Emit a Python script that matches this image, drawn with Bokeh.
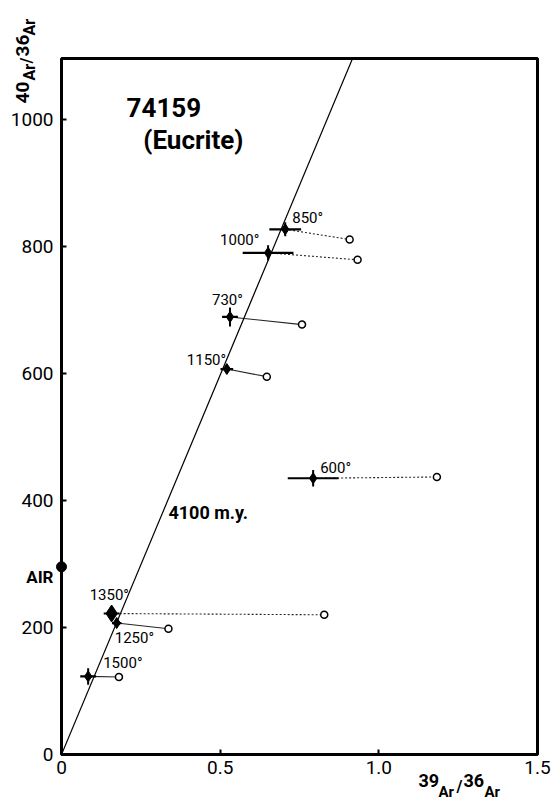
import numpy as np
from bokeh.plotting import figure
from bokeh.models import FixedTicker, ColumnDataSource, Range1d
from bokeh.core.properties import value
from bokeh.embed import file_html
from bokeh.resources import INLINE

# ---- data ----
temps = ["850°", "1000°", "730°", "1150°", "600°", "1350°", "1250°", "1500°"]
x_corr = [0.705, 0.651, 0.531, 0.521, 0.793, 0.158, 0.174, 0.084]   # 39Ar/36Ar corrected
y_corr = [827, 790, 689, 607, 435, 222, 207, 123]                    # 40Ar/36Ar corrected
x_unc = [0.908, 0.933, 0.758, 0.647, 1.183, 0.828, 0.337, 0.181]    # uncorrected
y_unc = [811, 779, 677, 595, 437, 220, 198, 122]
x_err = [0.05, 0.08, 0.025, 0.02, 0.08, 0.025, 0.015, 0.025]
y_err = [11, 12, 15, 6, 13, 8, 6, 13]
air_ratio = 295.5
isochron_slope = 1195.0      # 4100 m.y. reference isochron through origin
isochron_label = "4100 m.y."
x_ticks = [0, 0.5, 1.0, 1.5]
x_tick_labels = ["0", "0.5", "1.0", "1.5"]
y_ticks = [0, 200, 400, 600, 800, 1000]

# ---- styles ----
FONT = "Roboto"
link_dash = ["2 2", "2 2", "solid", "solid", "2 2", "2 2", "solid", "solid"]
label_dx = [7, -48, -18, -40, 7, -22, -2, 15]        # px from corrected point
label_dy = [11, 12.5, 17, 9, 10, 19, -15, 13.5]      # px up
marker_size = [11, 11, 11, 11, 11, 17, 11, 11]

W, H = 552, 801
BL, BR, BT, BB = 61, 15, 58, 47
X0, X1, Y0, Y1 = 0, 1.5, 0, 1096
p = figure(width=W, height=H, output_backend="svg", toolbar_location=None,
           x_range=Range1d(X0, X1), y_range=Range1d(Y0, Y1),
           min_border_left=BL, min_border_right=BR, min_border_top=BT, min_border_bottom=BB)
p.grid.visible = False
p.background_fill_color = "white"
p.border_fill_color = "white"
p.outline_line_color = "black"
p.outline_line_width = 3

for ax in (p.xaxis[0], p.yaxis[0]):
    ax.axis_line_color = None
    ax.major_tick_in = 5
    ax.major_tick_out = 0
    ax.major_tick_line_width = 2
    ax.minor_tick_line_color = None
    ax.major_label_text_font = FONT
    ax.major_label_text_font_size = "19px"
    ax.major_label_text_color = "black"
p.xaxis.ticker = FixedTicker(ticks=x_ticks)
p.xaxis.major_label_overrides = {t: l for t, l in zip(x_ticks, x_tick_labels)}
p.xaxis.major_label_standoff = 6
p.yaxis.ticker = FixedTicker(ticks=y_ticks)
p.yaxis.major_label_standoff = 8

# isochron
xi_end = Y1 / isochron_slope
p.line([0, xi_end], [0, isochron_slope * xi_end], line_color="black", line_width=1.2)

# links corrected -> uncorrected
for i in range(len(temps)):
    p.line([x_corr[i], x_unc[i]], [y_corr[i], y_unc[i]], line_color="black",
           line_width=1.1, line_dash=link_dash[i], line_alpha=0.85)

src = ColumnDataSource(dict(x=x_corr, y=y_corr, xu=x_unc, yu=y_unc,
                            x0=[a - b for a, b in zip(x_corr, x_err)],
                            x1=[a + b for a, b in zip(x_corr, x_err)],
                            y0=[a - b for a, b in zip(y_corr, y_err)],
                            y1=[a + b for a, b in zip(y_corr, y_err)],
                            t=temps, dx=label_dx, dy=[-d for d in label_dy],
                            ms=marker_size))
# error bars
p.segment(x0="x0", y0="y", x1="x1", y1="y", source=src, line_color="black", line_width=2.2)
p.segment(x0="x", y0="y0", x1="x", y1="y1", source=src, line_color="black", line_width=2)
# corrected points
p.scatter(x="x", y="y", size="ms", marker="diamond", source=src,
          fill_color="black", line_color="black")
# uncorrected points
p.scatter(x="xu", y="yu", size=7, marker="circle", source=src,
          fill_color="white", line_color="black", line_width=1.5)
# temperature labels
p.text(x="x", y="y", text="t", x_offset="dx", y_offset="dy", source=src,
       text_font=value(FONT), text_font_size="15px", text_align="left",
       text_baseline="middle", text_color="black")

# air point (overlay level -> not clipped, whole dot shows on the axis)
air_r = p.scatter([0], [air_ratio], size=10, marker="circle", fill_color="black",
                  line_color="black")
air_r.level = "overlay"

FW, FH = W - BL - BR, H - BT - BB


def stext(sx, sy, t, size, align="left", angle=0.0, bold=True):
    """text placed at px offsets from the frame's bottom-left corner (y up)"""
    r = p.text(x=[X0 + sx / FW * (X1 - X0)], y=[Y0 + sy / FH * (Y1 - Y0)], text=[t],
               text_font=value(FONT), text_font_size=size,
               text_font_style="bold" if bold else "normal",
               text_baseline="middle", text_align=align, angle=angle,
               text_color="black")
    r.level = "overlay"


def dtext(x, y, t, size):
    p.text(x=[x], y=[y], text=[t], text_font=value(FONT), text_font_size=size,
           text_font_style="bold", text_baseline="middle", text_align="left",
           text_color="black")


stext(-8, 178, "AIR", "17px", align="right")

# titles
dtext(0.205, 1019, "74159", "26px")
dtext(0.258, 967, "(Eucrite)", "26px")
dtext(0.337, 381, isochron_label, "18px")

# x axis label  39Ar/36Ar
stext(357, -26, "39", "18px")
stext(377, -37, "Ar", "15px")
stext(395, -32, "/", "16px")
stext(402, -26, "36", "18px")
stext(423, -37, "Ar", "15px")

# y axis label  40Ar/36Ar (rotated, reading upwards)
a = np.pi / 2
stext(-39, 651, "40", "19px", angle=a)
stext(-32, 674, "Ar", "16px", angle=a)
stext(-35, 691, "/", "16px", angle=a)
stext(-39, 698, "36", "19px", angle=a)
stext(-32, 719, "Ar", "16px", angle=a)

open("out.html", "w").write(file_html(p, INLINE))
